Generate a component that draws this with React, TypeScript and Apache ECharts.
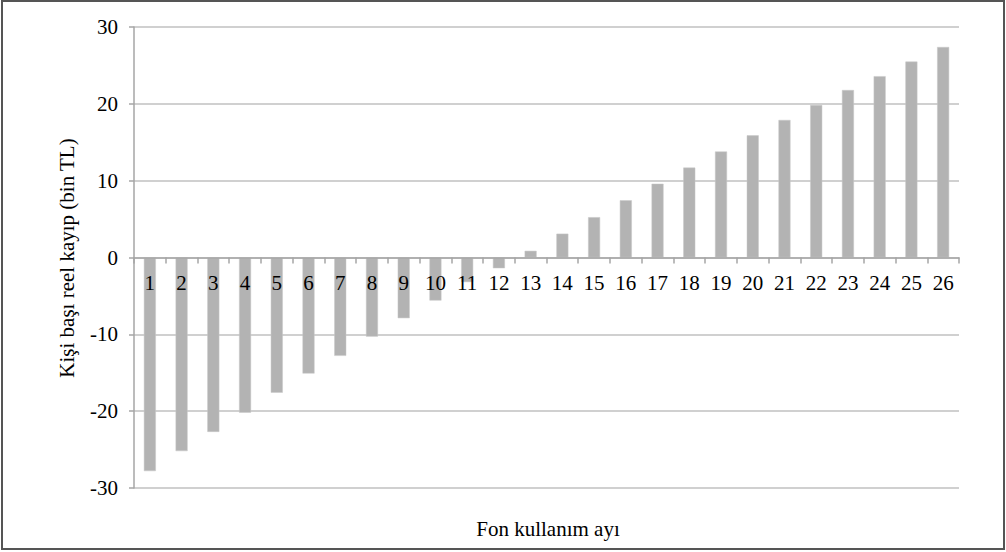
import React, { useEffect, useRef } from "react";
import * as echarts from "echarts";

const months = ["1","2","3","4","5","6","7","8","9","10","11","12","13","14","15","16","17","18","19","20","21","22","23","24","25","26"];
const loss = [-27.8,-25.2,-22.7,-20.2,-17.6,-15.1,-12.8,-10.3,-7.9,-5.6,-3.2,-1.4,0.87,3.1,5.25,7.45,9.6,11.7,13.8,15.9,17.9,19.85,21.8,23.6,25.5,27.4];
const yTicks = [-30, 30, 10];
const yTitle = "Kişi başı reel kayıp (bin TL)";
const xTitle = "Fon kullanım ayı";

const FONT = "'Liberation Serif', 'Times New Roman', serif";

const GRID_TOP = 27;
const GRID_BOTTOM_Y = 488;

export default function App() {
  const ref = useRef<HTMLDivElement>(null);
  useEffect(() => {
    if (!ref.current) return;
    const chart = echarts.init(ref.current, null, { renderer: "svg" });
    const [yMin, yMax, yStep] = yTicks;
    const zeroOffset = -((GRID_BOTTOM_Y - GRID_TOP) * (0 - yMin)) / (yMax - yMin);
    chart.setOption({
      animation: false,
      backgroundColor: "#ffffff",
      grid: { left: 134, right: 47, top: GRID_TOP, bottom: 552 - GRID_BOTTOM_Y, containLabel: false },
      xAxis: {
        type: "category",
        data: months,
        position: "bottom",
        offset: zeroOffset,
        z: 10,
        axisLine: { onZero: false, lineStyle: { color: "#a6a6a6", width: 1.5 } },
        axisTick: { show: true, length: 6, lineStyle: { color: "#a6a6a6", width: 1.5 } },
        axisLabel: { margin: 15, fontFamily: FONT, fontSize: 21, color: "#000" },
        splitLine: { show: false },
      },
      yAxis: {
        type: "value",
        min: yMin,
        max: yMax,
        interval: yStep,
        axisLine: { show: true, lineStyle: { color: "#a6a6a6", width: 1.5 } },
        axisTick: { show: true, length: 5, lineStyle: { color: "#a6a6a6", width: 1.5 } },
        axisLabel: { margin: 16, fontFamily: FONT, fontSize: 21, color: "#000" },
        splitLine: { show: true, lineStyle: { color: "#c0c0c0", width: 1.5 } },
      },
      series: [
        {
          type: "bar",
          data: loss,
          barWidth: 12,
          z: 2,
          itemStyle: { color: "#b3b3b3", borderColor: "#c8c8c8", borderWidth: 0.5 },
        },
      ],
      graphic: [
        {
          type: "rect",
          shape: { x: 2, y: 1, width: 1002, height: 548 },
          style: { fill: "none", stroke: "#555555", lineWidth: 2 },
          silent: true,
        },
        {
          type: "text",
          x: 67,
          y: 258,
          rotation: Math.PI / 2,
          style: {
            text: yTitle,
            fontFamily: FONT,
            fontSize: 21,
            fill: "#000",
            align: "center",
            verticalAlign: "middle",
          },
        },
        {
          type: "text",
          x: 548,
          y: 529,
          style: {
            text: xTitle,
            fontFamily: FONT,
            fontSize: 21,
            fill: "#000",
            align: "center",
            verticalAlign: "middle",
          },
        },
      ],
    });
    return () => chart.dispose();
  }, []);
  return (
    <div
      ref={ref}
      style={{ position: "fixed", left: 0, top: 0, width: 1006, height: 552 }}
    />
  );
}
